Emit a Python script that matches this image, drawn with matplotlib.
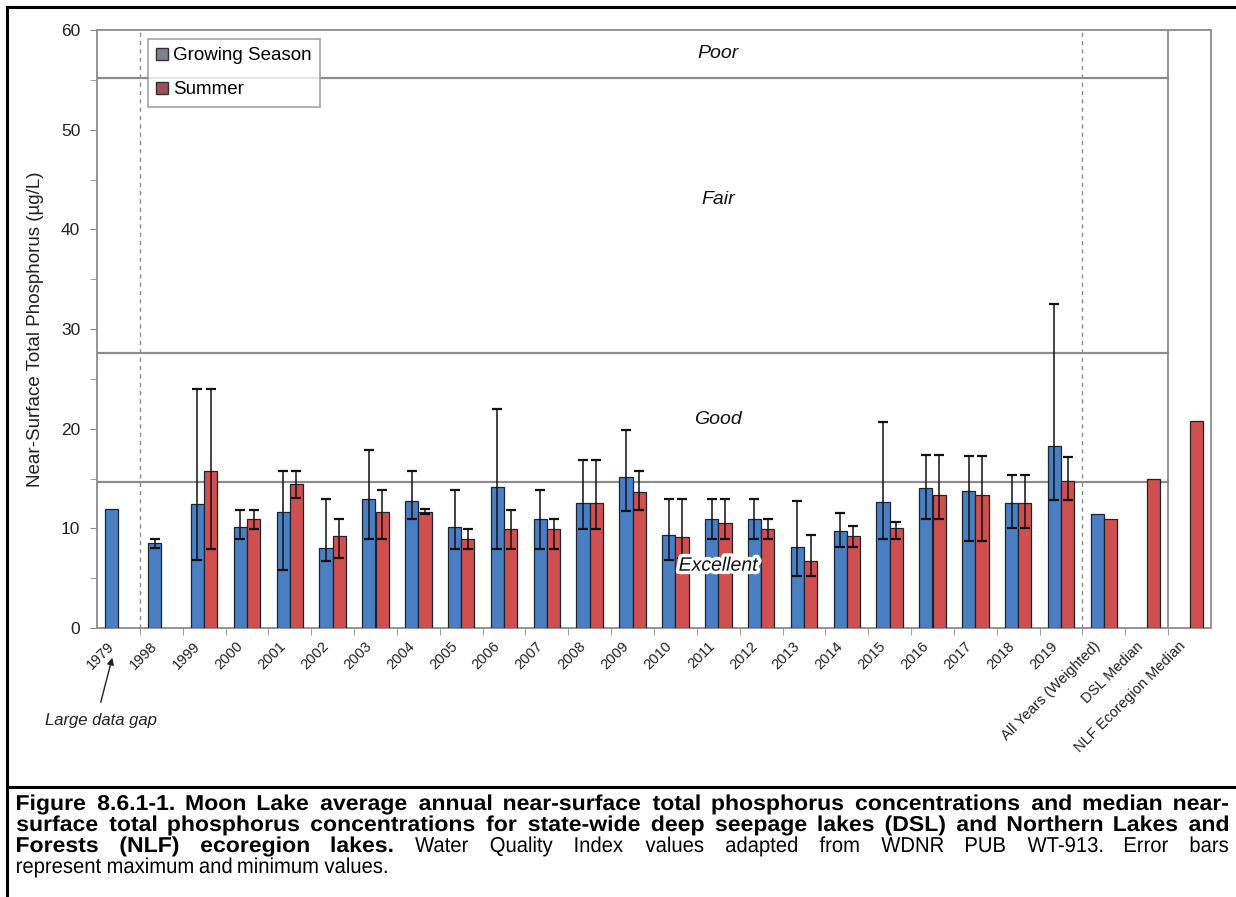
import numpy as np
import matplotlib
matplotlib.use("Agg")
import matplotlib.pyplot as plt
import matplotlib.patheffects as pe
from matplotlib.transforms import offset_copy, Affine2D
from matplotlib.patches import Patch, FancyArrowPatch, PathPatch
from matplotlib.lines import Line2D
from matplotlib.textpath import TextPath
from matplotlib.font_manager import FontProperties

plt.rcParams['font.family'] = ['Liberation Sans', 'DejaVu Sans']

nan = np.nan
categories = ['1979', '1998', '1999', '2000', '2001', '2002', '2003', '2004', '2005',
              '2006', '2007', '2008', '2009', '2010', '2011', '2012', '2013', '2014',
              '2015', '2016', '2017', '2018', '2019', 'All Years (Weighted)',
              'DSL Median', 'NLF Ecoregion Median']

gs_mean = [11.9, 8.5, 12.4, 10.1, 11.6, 8.0, 12.9, 12.7, 10.1, 14.1, 10.9, 12.5, 15.2,
           9.3, 10.9, 10.9, 8.1, 9.7, 12.6, 14.0, 13.7, 12.5, 18.3, 11.4, nan, nan]
gs_max = [nan, 8.9, 24.0, 11.8, 15.8, 12.9, 17.9, 15.8, 13.8, 22.0, 13.8, 16.9, 19.9,
          12.9, 12.9, 12.9, 12.7, 11.5, 20.7, 17.4, 17.3, 15.4, 32.5, nan, nan, nan]
gs_min = [nan, 8.05, 6.85, 8.9, 5.85, 6.75, 8.9, 10.9, 7.9, 7.9, 7.9, 9.9, 11.7,
          6.85, 8.9, 8.9, 5.25, 8.1, 8.9, 10.9, 8.7, 10.0, 12.8, nan, nan, nan]

s_mean = [nan, nan, 15.8, 10.9, 14.4, 9.2, 11.6, 11.6, 8.9, 9.9, 9.9, 12.5, 13.6,
          9.1, 10.5, 9.9, 6.7, 9.2, 10.0, 13.3, 13.3, 12.5, 14.7, 10.9, 14.9, 20.8]
s_max = [nan, nan, 24.0, 11.8, 15.8, 10.9, 13.8, 11.9, 9.9, 11.8, 10.9, 16.9, 15.8,
         12.9, 12.9, 10.9, 9.3, 10.2, 10.6, 17.4, 17.3, 15.4, 17.2, nan, nan, nan]
s_min = [nan, nan, 7.9, 9.9, 13.0, 7.0, 8.9, 11.4, 7.9, 7.9, 7.9, 9.9, 11.8,
         7.0, 8.9, 8.9, 5.25, 8.1, 8.9, 10.9, 8.7, 10.0, 12.8, nan, nan, nan]

wqi_bounds = [14.6, 27.6, 55.2]
wqi_labels = ['Excellent', 'Good', 'Fair', 'Poor']
wqi_label_y = [6.2, 20.9, 43.0, 57.6]

caption_lines = [
    [("Figure 8.6.1-1. Moon Lake average annual near-surface total phosphorus concentrations and median near-", 'bold')],
    [("surface total phosphorus concentrations for state-wide deep seepage lakes (DSL) and Northern Lakes and", 'bold')],
    [("Forests (NLF) ecoregion lakes.", 'bold'),
     ("Water Quality Index values adapted from WDNR PUB WT-913.  Error bars", 'normal')],
    [("represent maximum and minimum values.", 'normal')],
]

W, H = 1236, 897
fig = plt.figure(figsize=(W / 100, H / 100), dpi=100)
ax = fig.add_axes([97 / W, 1 - 628 / H, (1211 - 97) / W, (628 - 30) / H])

x = np.arange(len(categories))
bw = 0.31
blue = '#4a7fc4'
red = '#d04f4f'
edge = '#1c2430'

gs_mean_a = np.array(gs_mean)
s_mean_a = np.array(s_mean)
ax.bar(x - bw / 2, gs_mean_a, width=bw, color=blue, edgecolor=edge, linewidth=0.9, zorder=3)
ax.bar(x + bw / 2, s_mean_a, width=bw, color=red, edgecolor=edge, linewidth=0.9, zorder=3)

gmx, gmn = np.array(gs_max), np.array(gs_min)
smx, smn = np.array(s_max), np.array(s_min)
ax.errorbar(x - bw / 2, gs_mean_a, yerr=[gs_mean_a - gmn, gmx - gs_mean_a], fmt='none',
            ecolor='#111111', elinewidth=1.1, capsize=3.5, capthick=1.6, zorder=4)
ax.errorbar(x + bw / 2, s_mean_a, yerr=[s_mean_a - smn, smx - s_mean_a], fmt='none',
            ecolor='#111111', elinewidth=1.1, capsize=3.5, capthick=1.6, zorder=4)

for b in wqi_bounds:
    ax.plot([-0.5, 24.5], [b, b], color='#8c8c8c', linewidth=1.6, zorder=2)
ax.axvline(24.5, color='#8c8c8c', linewidth=1.3, zorder=2)
for xv in (0.5, 22.5):
    ax.axvline(xv, color='#8c8c8c', linewidth=1.0, linestyle=(0, (3, 3)), zorder=2)

for lab, yv in zip(wqi_labels, wqi_label_y):
    t = ax.text(14.0, yv, lab, ha='center', va='center', fontsize=14, style='italic',
                color='#111111', zorder=6)
    if lab == 'Excellent':
        t.set_path_effects([pe.withStroke(linewidth=5, foreground='white')])

ax.set_xlim(-0.5, 25.5)
ax.set_ylim(0, 60)
ax.set_yticks(np.arange(0, 61, 10))
ax.set_yticks(np.arange(0, 61, 5), minor=True)
ax.set_xticks(x)
ax.set_xticks(np.arange(0.5, 25.5, 1.0), minor=True)
ax.tick_params(axis='x', which='major', length=0, pad=0)
ax.tick_params(axis='x', which='minor', length=5, color='#8c8c8c', direction='out')
ax.tick_params(axis='y', which='major', length=5, color='#8c8c8c', direction='out',
               labelsize=12.5, labelcolor='#222222', pad=7)
ax.tick_params(axis='y', which='minor', length=5, color='#8c8c8c', direction='out')
ax.set_xticklabels([])
for sp in ax.spines.values():
    sp.set_color('#8c8c8c')
    sp.set_linewidth(1.3)

for xi, lab in zip(x, categories):
    tr = offset_copy(ax.get_xaxis_transform(), fig=fig, x=-6, y=-16, units='dots')
    ax.text(xi, 0, lab, transform=tr, rotation=45, ha='right', va='center',
            rotation_mode='anchor', fontsize=10.5, color='#222222')

ax.set_ylabel('Near-Surface Total Phosphorus (µg/L)', fontsize=13.5, color='#222222', labelpad=12)

leg = ax.legend(handles=[Patch(facecolor='#7d838d', edgecolor='#333333', label='Growing Season'),
                         Patch(facecolor='#9c4f58', edgecolor='#333333', label='Summer')],
                loc='upper left', bbox_to_anchor=((148 - 97) / (1211 - 97), (628 - 39) / (628 - 30)),
                fontsize=13.5, frameon=True, fancybox=False, edgecolor='#8c8c8c',
                handlelength=0.6, handleheight=0.6, handletextpad=0.3, borderpad=0.45,
                labelspacing=0.9, borderaxespad=0)
leg.get_frame().set_linewidth(1.2)

fig.text(101 / W, 1 - 720 / H, 'Large data gap', ha='center', va='center', fontsize=12,
         style='italic', color='#222222')
fig.add_artist(FancyArrowPatch(
    posA=(100 / W, 1 - 705 / H), posB=(113 / W, 1 - 655 / H), transform=fig.transFigure,
    arrowstyle='-|>', mutation_scale=10, color='#222222', linewidth=1.0))

fig.add_artist(Line2D([7 / W, 7 / W], [0, 1 - 7 / H], transform=fig.transFigure, color='black', linewidth=2.2))
fig.add_artist(Line2D([7 / W, 1], [1 - 7 / H, 1 - 7 / H], transform=fig.transFigure, color='black', linewidth=2.2))
fig.add_artist(Line2D([7 / W, 1], [1 - 787 / H, 1 - 787 / H], transform=fig.transFigure, color='black', linewidth=2.2))

left_px, right_px = 17, 1228
baseline_y = [810, 831, 852, 873]
fs_px = 15.5 * 100 / 72
stretch = {'bold': 1.07, 'normal': 0.94}
props = {'bold': FontProperties(family='Liberation Sans', weight='bold'),
         'normal': FontProperties(family='Liberation Sans', weight='normal')}
space_px = TextPath((0, 0), 'a a', size=fs_px, prop=props['normal']).get_extents().width - \
    TextPath((0, 0), 'aa', size=fs_px, prop=props['normal']).get_extents().width
for li, (segs, yb) in enumerate(zip(caption_lines, baseline_y)):
    words = []
    for txt, wt in segs:
        for w in txt.split():
            tp = TextPath((0, 0), w, size=fs_px, prop=props[wt])
            ext = tp.get_extents()
            words.append((tp, ext.x0, ext.width * stretch[wt], stretch[wt]))
    total = sum(wd for _, _, wd, _ in words)
    if li < 3:
        gap = (right_px - left_px - total) / (len(words) - 1)
    else:
        gap = space_px * 1.15
    xp = left_px
    for tp, x0, wd, sx in words:
        tr = Affine2D().translate(-x0, 0).scale(sx, 1).translate(xp, H - yb)
        fig.add_artist(PathPatch(tp, transform=tr, facecolor='black', edgecolor='none', lw=0))
        xp += wd + gap

fig.savefig('out.png', dpi=100, facecolor='white')
